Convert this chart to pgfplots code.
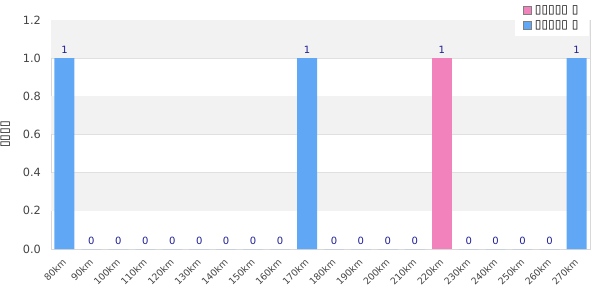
\documentclass[border=0pt]{standalone}
\usepackage{pgfplots}
\pgfplotsset{compat=1.18}
\usepackage{fontspec}
\setmainfont{DejaVu Sans}
\definecolor{barblue}{RGB}{96,168,245}
\definecolor{barpink}{RGB}{242,130,187}
\definecolor{lblnavy}{RGB}{30,30,150}
\definecolor{band}{RGB}{242,242,242}
\definecolor{gridc}{RGB}{224,224,224}
\definecolor{framec}{RGB}{216,216,216}
\definecolor{tickc}{RGB}{68,68,68}
\begin{document}
\begin{tikzpicture}
\useasboundingbox (0,0) rectangle (450pt,225pt);
\begin{axis}[
  at={(38.25pt,38.25pt)}, anchor=south west,
  scale only axis, width=404.25pt, height=171.75pt,
  xmin=-0.5, xmax=19.5, ymin=0, ymax=1.2,
  ytick={0,0.2,0.4,0.6,0.8,1.0,1.2},
  yticklabel style={/pgf/number format/fixed, /pgf/number format/fixed zerofill, /pgf/number format/precision=1},
  /pgf/number format/assume math mode=true,
  xtick={0,...,19},
  xticklabels={80km,90km,100km,110km,120km,130km,140km,150km,160km,170km,180km,190km,200km,210km,220km,230km,240km,250km,260km,270km},
  x tick label style={xshift=-2pt, yshift=-5pt, rotate=45, anchor=north east, font=\fontsize{7}{8}\selectfont, text=tickc, inner sep=1pt},
  y tick label style={font=\fontsize{8.5}{9}\selectfont, text=tickc, xshift=-4pt},
  major tick length=0pt,
  axis line style={framec},
  ymajorgrids, grid style={gridc, line width=0.6pt},
  ylabel={\fontsize{9}{9}\selectfont ▯▯▯▯},
  every axis y label/.style={at={(rel axis cs:-0.085,0.5)}, rotate=90, anchor=center},
  ybar, bar width=15pt, bar shift=0pt,
  nodes near coords,
  every node near coord/.append style={font=\fontsize{7.5}{8}\selectfont, text=lblnavy, inner sep=2pt, yshift=1pt, /pgf/number format/fixed, /pgf/number format/precision=0},
  legend style={at={(rel axis cs:1,1)}, anchor=north east, yshift=15pt, xshift=-0.5pt,
    draw=none, fill=white, font=\fontsize{9}{10}\selectfont, row sep=0pt,
    inner xsep=6pt, inner ysep=2pt},
  legend cell align=left,
  legend image code/.code={\draw[#1, draw=gray, line width=0.6pt] (0pt,-3pt) rectangle (6pt,3pt);},
  clip=false,
]
\fill[band] (axis cs:-0.5,1.0) rectangle (axis cs:19.5,1.2);
\fill[band] (axis cs:-0.5,0.6) rectangle (axis cs:19.5,0.8);
\fill[band] (axis cs:-0.5,0.2) rectangle (axis cs:19.5,0.4);
\addplot[fill=barpink, draw=none] coordinates {(14,1)};
\addlegendentry{▯▯▯▯▯ ▯}
\addplot[fill=barblue, draw=none] coordinates {
(0,1) (1,0) (2,0) (3,0) (4,0) (5,0) (6,0) (7,0) (8,0) (9,1)
(10,0) (11,0) (12,0) (13,0) (15,0) (16,0) (17,0) (18,0) (19,1)};
\addlegendentry{▯▯▯▯▯ ▯}
\end{axis}
\end{tikzpicture}
\end{document}
